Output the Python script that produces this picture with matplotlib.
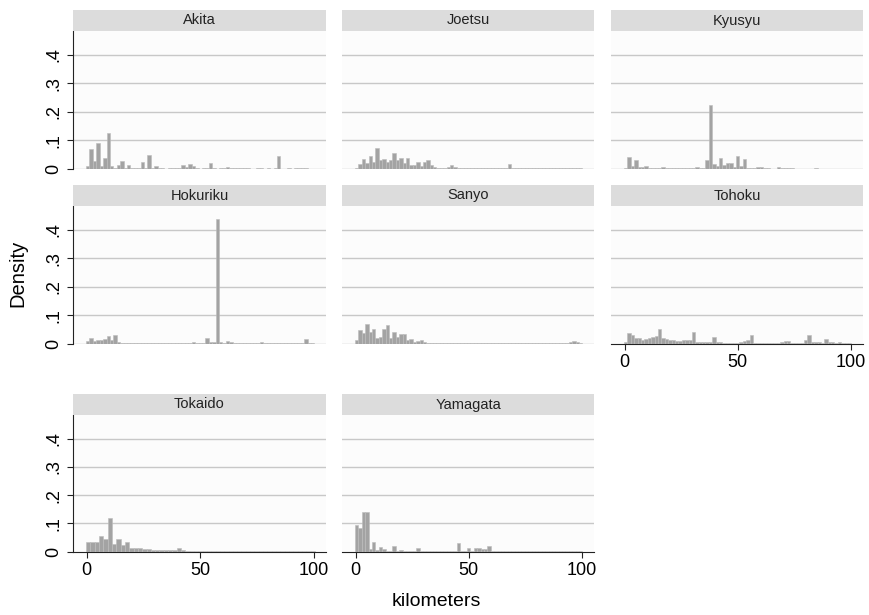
import numpy as np
import matplotlib.pyplot as plt

plt.rcParams['font.family'] = ['Liberation Sans', 'DejaVu Sans']

# panel names, in reading order
lines = ["Akita", "Joetsu", "Kyusyu", "Hokuriku", "Sanyo", "Tohoku", "Tokaido", "Yamagata"]

# histogram densities, one value per bin (bins start at -0.3 km)
akita = [.009, .070, .027, .092, .010, .040, .128, .012, .005, .013, .027, .005, .013, .005,
         .004, .005, .023, .003, .050, .002, .010, .002, .002, .001, .002, .002, .003, .005,
         .014, .008, .016, .010, .002, .001, .002, .002, .022, .002, .001, .002, .002, .007,
         .004, .003, .002, .005, .002, .002, .001, .001, .002, .002, .001, .002, .001, .002,
         .047, .001, .001, .002, .001, .002, .002, .002, .002, .001, .001]
joetsu = [.005, .017, .034, .022, .045, .025, .072, .030, .034, .024, .032, .055, .030, .040,
          .020, .040, .014, .014, .025, .010, .025, .030, .015, .008, .005, .004, .003, .008,
          .013, .008, .003, .002, .002, .002, .002, .002, .002, .002, .002, .002, .002, .002,
          .002, .002, .002, .018, .002, .002, .002, .002, .002, .002, .002, .002, .002, .004,
          .004, .002, .002, .002, .002, .002, .002, .004, .004, .004, .002]
kyusyu = [.005, .041, .012, .030, .008, .006, .010, .005, .002, .002, .002, .008, .003, .002,
          .002, .002, .002, .002, .004, .005, .003, .008, .004, .003, .031, .223, .018, .010,
          .037, .015, .020, .020, .008, .045, .010, .036, .003, .003, .004, .008, .006, .002,
          .002, .001, .001, .008, .002, .002, .003, .003, .001, .001, .001, .001, .001, .001,
          .002, .001, .001, .001, .001, .001, .001, .001, .001, .001, .001]
hokuriku = [.008, .018, .010, .014, .014, .016, .026, .012, .030, .006, .003, .002, .002, .001,
            .001, .001, .001, .001, .001, .001, .001, .001, .001, .001, .001, .001, .001, .001,
            .001, .001, .001, .007, .002, .002, .002, .021, .004, .004, .440, .006, .003, .008,
            .004, .002, .002, .002, .002, .002, .002, .002, .002, .006, .002, .003, .003, .002,
            .002, .002, .002, .002, .002, .002, .002, .002, .015, .003, .001]
sanyo = [.012, .048, .036, .069, .040, .050, .021, .024, .050, .065, .021, .042, .024, .033,
         .033, .012, .017, .006, .008, .012, .004, .003, .003, .002, .002, .001, .001, .001,
         .001, .001, .002, .002, .001, .001, .001, .001, .001, .001, .001, .001, .001, .002,
         .002, .001, .001, .001, .001, .001, .001, .002, .003, .002, .001, .001, .001, .001,
         .001, .001, .001, .001, .001, .001, .001, .005, .010, .006, .001]
tohoku = [.006, .036, .030, .018, .018, .014, .016, .018, .024, .026, .052, .018, .017, .012,
          .014, .008, .010, .012, .014, .014, .042, .005, .006, .006, .006, .006, .024, .006,
          .004, .002, .001, .001, .001, .001, .006, .008, .012, .030, .002, .001, .001, .001,
          .002, .001, .001, .001, .006, .010, .010, .003, .002, .002, .002, .012, .029, .004,
          .006, .004, .002, .017, .006, .006, .003, .007, .002, .002, .001]
tokaido = [.035, .036, .034, .055, .045, .121, .029, .044, .025, .035, .014, .012, .012, .010,
           .010, .007, .006, .005, .005, .005, .006, .014, .005, .002, .002, .002, .003, .004,
           .003, .002, .002, .001, .001, .001, .001, .001, .001, .001, .001, .001, .001, .001,
           .001, .001, .001, .001, .001, .001, .001, .001, .001, .001, .001]
yamagata = [.094, .085, .140, .140, .010, .033, .005, .018, .008, .003, .003, .020, .004, .005,
            .004, .004, .004, .003, .014, .001, .001, .001, .001, .001, .001, .001, .001, .001,
            .001, .003, .030, .003, .003, .014, .004, .013, .013, .008, .008, .020, .001, .001,
            .001, .001, .001, .001, .001, .001, .001, .001, .001, .001, .001, .001, .001, .001,
            .001, .001, .001, .001, .001, .001, .001, .001, .001, .001, .001]
heights = [akita, joetsu, kyusyu, hokuriku, sanyo, tohoku, tokaido, yamagata]
bin_widths = [1.5, 1.5, 1.5, 1.5, 1.5, 1.5, 1.9, 1.5]
bin_start = -0.3

yticks = [0, .1, .2, .3, .4]
ytick_labels = ["0", ".1", ".2", ".3", ".4"]
xticks = [0, 50, 100]
xtick_labels = ["0", "50", "100"]

W, H = 870, 615
cols = [(73, 326), (342, 594), (611, 863)]
rows = [(10, 31, 169), (185, 206, 343.5), (394, 415, 551.7)]

fig = plt.figure(figsize=(W / 100, H / 100), dpi=100)
fig.patch.set_facecolor('white')

def frac(x0, ytop, x1, ybot):
    return [x0 / W, 1 - ybot / H, (x1 - x0) / W, (ybot - ytop) / H]

for i, (name, h, w) in enumerate(zip(lines, heights, bin_widths)):
    r, c = divmod(i, 3)
    x0, x1 = cols[c]
    htop, ptop, pbot = rows[r]
    ax = fig.add_axes(frac(x0, ptop, x1, pbot))
    ax.set_facecolor('#fcfcfc')
    left = bin_start + w * np.arange(len(h))
    ax.bar(left, h, width=w, align='edge', color='#a3a3a3',
           edgecolor='#bcbcbc', linewidth=0.4, zorder=3)
    ax.set_xlim(-6.05, 105.3)
    ax.set_ylim(0, 0.484)
    has_x = name in ("Tohoku", "Tokaido", "Yamagata")
    grid = yticks[1:] if has_x else yticks
    for g in grid:
        ax.axhline(g, color='#c8c8c8', lw=1.0, zorder=1)
    for s in ax.spines.values():
        s.set_visible(False)
    ax.tick_params(direction='out', length=4.5, width=0.8, color='#222222',
                   labelsize=13, pad=3)
    if c == 0:
        ax.spines['left'].set_visible(True)
        ax.spines['left'].set_color('#222222')
        ax.spines['left'].set_linewidth(0.8)
        ax.set_yticks(yticks)
        ax.set_yticklabels(ytick_labels, rotation=90, va='center')
    else:
        ax.set_yticks([])
    if has_x:
        ax.spines['bottom'].set_visible(True)
        ax.spines['bottom'].set_color('#222222')
        ax.spines['bottom'].set_linewidth(0.8)
        ax.set_xticks(xticks)
        ax.set_xticklabels(xtick_labels)
    else:
        ax.set_xticks([])

    hdr = fig.add_axes(frac(x0, htop, x1, ptop))
    hdr.set_facecolor('#dcdcdc')
    hdr.set_xticks([])
    hdr.set_yticks([])
    for s in hdr.spines.values():
        s.set_visible(False)
    hdr.text(0.5, 0.5, name, ha='center', va='center', fontsize=10.5, color='#222222')

fig.text(18 / W, 1 - 273 / H, "Density", rotation=90, ha='center', va='center', fontsize=14.5)
fig.text(436 / W, 1 - 601 / H, "kilometers", ha='center', va='center', fontsize=14)

fig.savefig("out.png", dpi=100)
